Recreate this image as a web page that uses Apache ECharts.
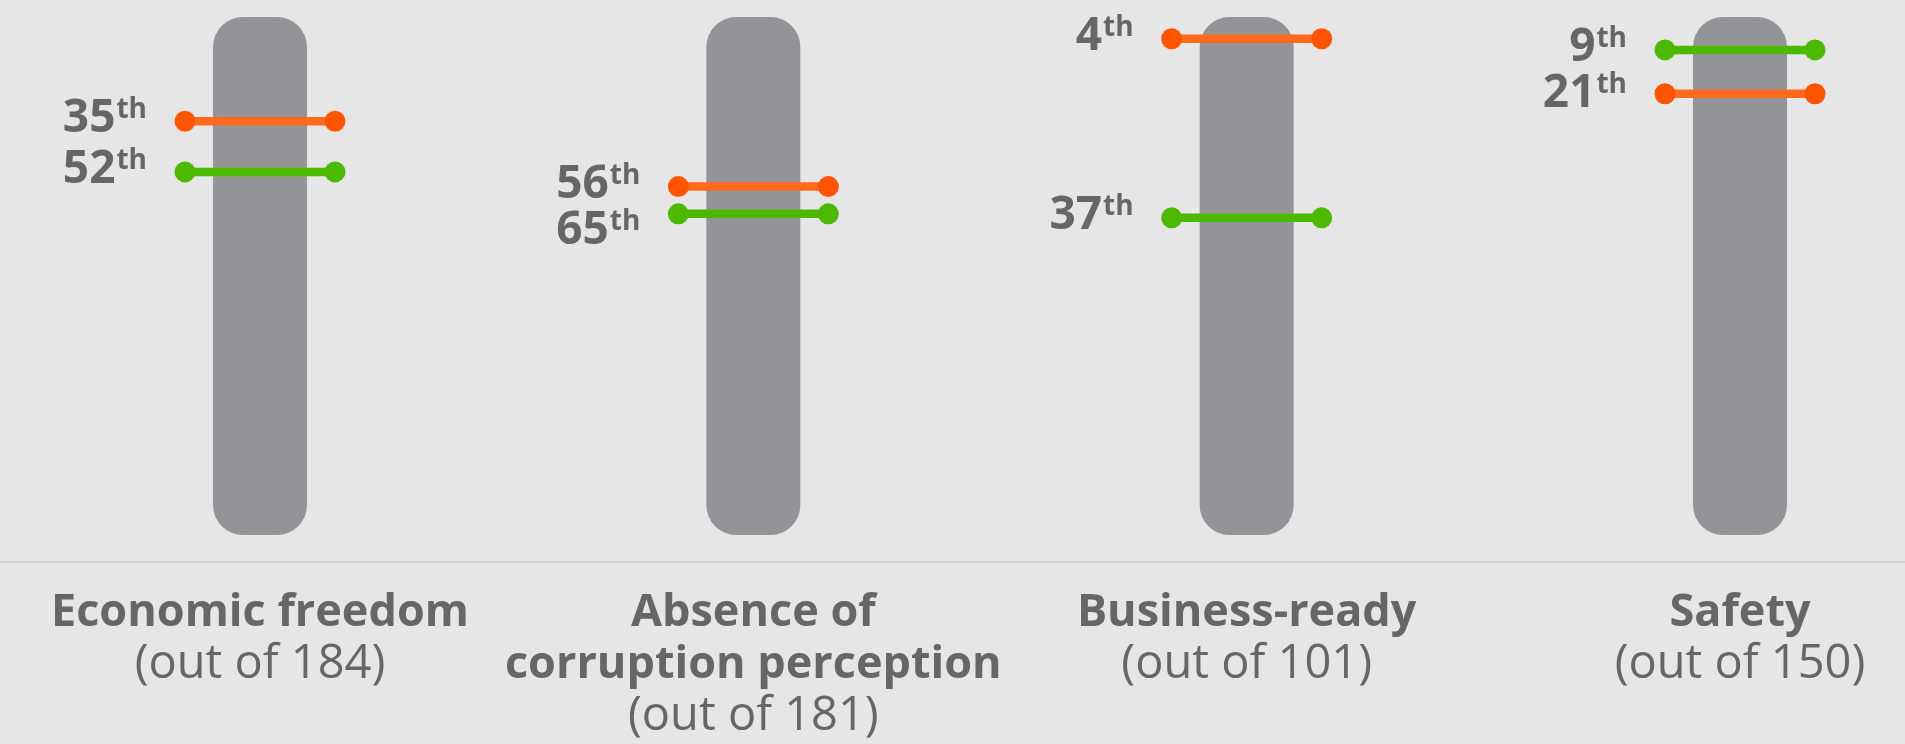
<!DOCTYPE html>
<html>
<head>
<meta charset="utf-8">
<script src="https://cdn.jsdelivr.net/npm/echarts@6/dist/echarts.min.js"></script>
<style>
  html, body { margin: 0; padding: 0; background: #E6E6E6; }
  #chart { width: 1905px; height: 744px; }
</style>
</head>
<body>
<div id="chart"></div>
<script>
// ---- data ----
const categories = ['Economic freedom', 'Absence of\ncorruption perception', 'Business-ready', 'Safety'];
const outOf = [184, 181, 101, 150];
const orangeRanks = [35, 56, 4, 21];
const greenRanks = [52, 65, 37, 9];
const rankSuffix = 'th';

// ---- style / layout constants ----
const Y_MAX = 0.945;          // share of the ranking covered by the track
const HALF = 75;              // half length of a dumbbell (px)
const DOT_R = 10.5;
const TEXT_GAP = 113;
const MIN_LABEL_GAP = 46;
const TEXT_COLOR = '#666666';
const FONT = '"Open Sans", Lato, sans-serif';

function dumbbellSeries(name, ranks, otherRanks, lineColor, dotColor) {
  return {
    name: name,
    type: 'custom',
    z: 5,
    data: ranks.map((r, i) => [i, r / outOf[i], r, otherRanks[i] / outOf[i]]),
    renderItem: function (params, api) {
      const p = api.coord([api.value(0), api.value(1)]);
      const q = api.coord([api.value(0), api.value(3)]);
      const cx = p[0], cy = p[1];
      // push the lower label down if it would collide with the other one
      let ly = cy;
      if (cy > q[1] && cy - q[1] < MIN_LABEL_GAP) ly = q[1] + MIN_LABEL_GAP;
      return {
        type: 'group',
        children: [
          { type: 'line', shape: { x1: cx - HALF, y1: cy, x2: cx + HALF, y2: cy },
            style: { stroke: lineColor, lineWidth: 8.5 } },
          { type: 'circle', shape: { cx: cx - HALF, cy: cy, r: DOT_R }, style: { fill: dotColor } },
          { type: 'circle', shape: { cx: cx + HALF, cy: cy, r: DOT_R }, style: { fill: dotColor } },
          { type: 'text',
            style: {
              text: '{n|' + api.value(2) + '}{s|' + rankSuffix + '}',
              x: cx - TEXT_GAP, y: ly - 2,
              align: 'right', verticalAlign: 'middle',
              rich: {
                n: { fontFamily: FONT, fontWeight: 'bold', fontSize: 46, lineHeight: 46, fill: TEXT_COLOR, color: TEXT_COLOR },
                s: { fontFamily: FONT, fontWeight: 'bold', fontSize: 28, lineHeight: 28, fill: TEXT_COLOR, color: TEXT_COLOR, verticalAlign: 'top', padding: [0, 0, 0, 1] }
              }
            } }
        ]
      };
    }
  };
}

const chart = echarts.init(document.getElementById('chart'));
chart.setOption({
  backgroundColor: '#E6E6E6',
  animation: false,
  grid: { left: 260, right: 165, top: 17, bottom: 209, containLabel: false },
  xAxis: {
    type: 'category',
    data: categories,
    boundaryGap: false,
    axisLine: { show: false },
    axisTick: { show: false },
    splitLine: { show: false },
    axisLabel: {
      interval: 0,
      margin: 52,
      formatter: function (value, idx) {
        return value.split('\n').map(l => '{b|' + l + '}').join('\n') + '\n{r|(out of ' + outOf[idx] + ')}';
      },
      rich: {
        b: { fontFamily: FONT, fontWeight: 'bold', fontSize: 45, lineHeight: 52, color: TEXT_COLOR, align: 'center' },
        r: { fontFamily: FONT, fontWeight: 'normal', fontSize: 47, lineHeight: 52, color: TEXT_COLOR, align: 'center' }
      }
    }
  },
  yAxis: {
    type: 'value',
    inverse: true,
    min: 0,
    max: Y_MAX,
    show: false
  },
  graphic: [
    { type: 'rect', left: 0, top: 561, shape: { width: 1905, height: 2 }, style: { fill: '#D0D0D0' }, silent: true }
  ],
  series: [
    {
      name: 'track',
      type: 'bar',
      barWidth: 94,
      data: categories.map(() => Y_MAX),
      itemStyle: { color: '#939498', borderRadius: 30 },
      silent: true,
      z: 1
    },
    dumbbellSeries('orange', orangeRanks, greenRanks, '#FF6A1F', '#FF5500'),
    dumbbellSeries('green', greenRanks, orangeRanks, '#4DB800', '#4CB800')
  ]
});
</script>
</body>
</html>
